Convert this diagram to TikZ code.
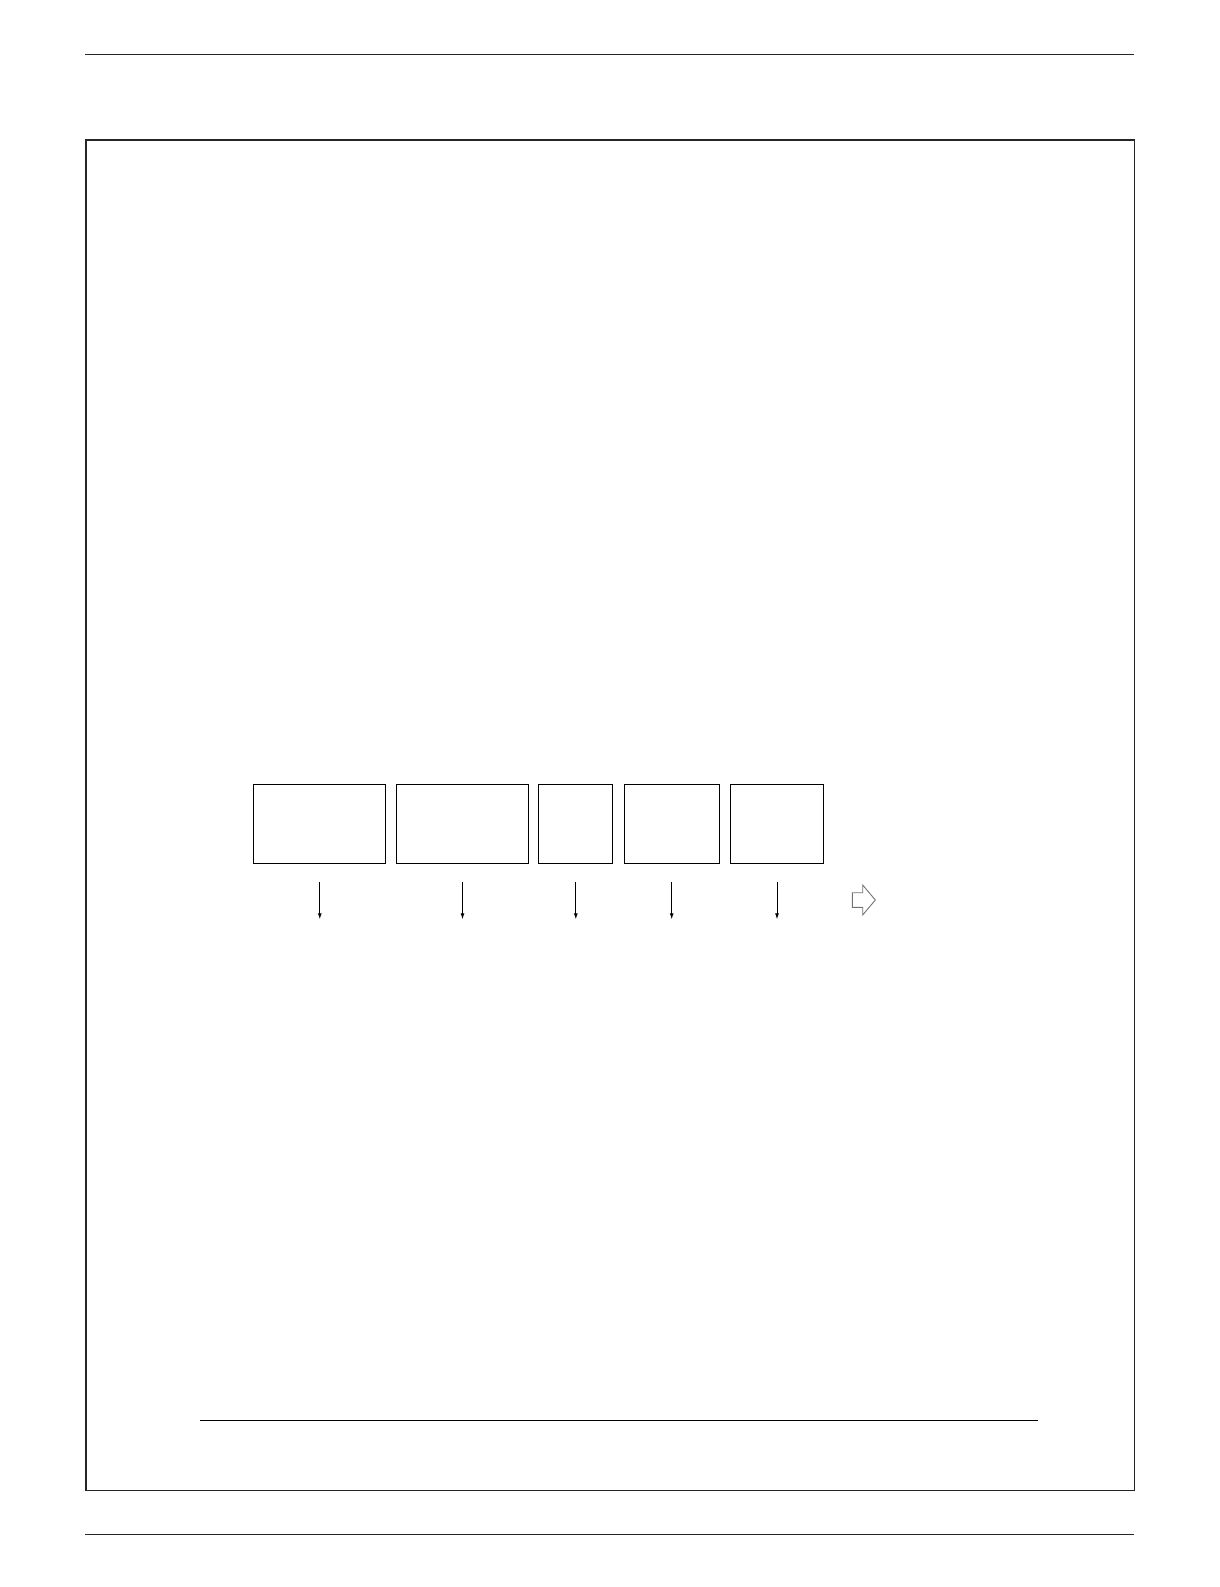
\documentclass[tikz,border=0pt]{standalone}
\usetikzlibrary{arrows.meta}
\tikzset{
  pagerule/.style={line width=1.5pt, draw=black!85},
  frame/.style={line width=1.3pt, draw=black!85},
  stagebox/.style={draw=black, line width=1pt, inner sep=0pt, minimum height=79pt, anchor=north west},
  downarrow/.style={draw=black, line width=0.9pt, -{Latex[length=6pt,width=4pt]}},
  hollowarrow/.style={draw=black!55, line width=0.9pt, fill=white, line join=miter},
}
\begin{document}
\begin{tikzpicture}[x=1pt,y=-1pt]
\useasboundingbox (0,0) rectangle (1219,1587);
\fill[white] (0,0) rectangle (1219,1587);
% page rules
\coordinate (tl) at (85,54.3); \coordinate (tr) at (1134,54.3);
\draw[pagerule] (tl) -- (tr);
\coordinate (bl) at (85,1534.3); \coordinate (br) at (1134,1534.3);
\draw[pagerule] (bl) -- (br);
% frame
\node[frame, draw, inner sep=0pt, minimum width=1048.2pt, minimum height=1350.7pt, anchor=north west] (fr) at (85.3,139.3) {};
% inner rule
\coordinate (il) at (199.8,1420.3); \coordinate (ir) at (1037.7,1420.3);
\draw[line width=1.3pt, black] (il) -- (ir);
% boxes
\node[stagebox, minimum width=132pt] (b1) at (253.3,784.3) {};
\node[stagebox, minimum width=131.4pt] (b2) at (396.3,784.3) {};
\node[stagebox, minimum width=74pt] (b3) at (538.3,784.3) {};
\node[stagebox, minimum width=95.4pt] (b4) at (623.5,784.3) {};
\node[stagebox, minimum width=92.4pt] (b5) at (730.3,784.3) {};
% arrows
\foreach \i in {1,...,5}{
  \coordinate (s\i) at ([yshift=-17.4pt]b\i.south);
  \coordinate (e\i) at ([yshift=-55pt]b\i.south);
  \draw[downarrow] (s\i) -- (e\i);
}
% hollow arrow
\node[inner sep=0pt] (ha) at (852.3,900) {};
\draw[hollowarrow] (ha.center) ++(0,-7.3) -- ++(10.4,0) -- ++(0,-7.7) -- (875.3,900) -- (862.7,915) -- ++(0,-7.7) -- (852.3,907.3) -- cycle;
\end{tikzpicture}
\end{document}
